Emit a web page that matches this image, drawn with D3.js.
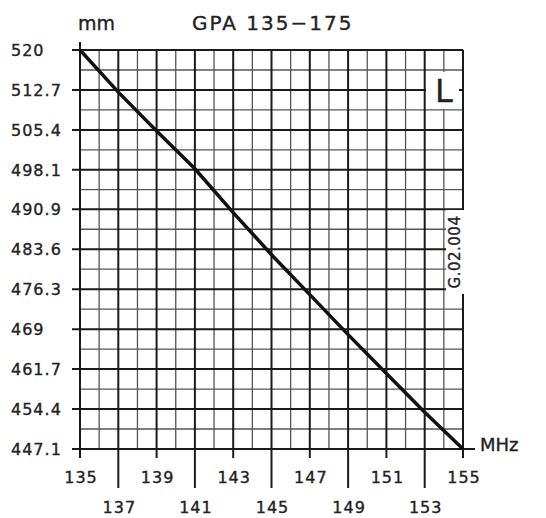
<!DOCTYPE html>
<html>
<head>
<meta charset="utf-8">
<script src="https://cdn.jsdelivr.net/npm/d3@7"></script>
<style>
  body { margin: 0; background: #fff; }
  text { font-family: "DejaVu Sans", sans-serif; fill: #222; stroke: #222; stroke-width: 0.35px; }
</style>
</head>
<body>
<div id="plot"></div>
<script>
// chart data
const freqTicks = [135, 136, 137, 138, 139, 140, 141, 142, 143, 144, 145,
                   146, 147, 148, 149, 150, 151, 152, 153, 154, 155];
const lengthTicks = [520, 512.7, 505.4, 498.1, 490.9, 483.6, 476.3, 469, 461.7, 454.4, 447.1];
const lengthLabels = ["520", "512.7", "505.4", "498.1", "490.9", "483.6", "476.3", "469", "461.7", "454.4", "447.1"];
const freq = [135, 137, 139, 141, 143, 145, 147, 149, 151, 153, 155];
const length = [520, 512.3, 505.2, 498.3, 490.3, 482.6, 475.3, 468.0, 460.9, 453.8, 447.1];

const W = 546, H = 518;
const svg = d3.select("#plot").append("svg")
    .attr("width", W)
    .attr("height", H);

const x = d3.scaleLinear().domain([135, 155]).range([80, 463]);
const y = d3.scaleLinear().domain([447.1, 520]).range([449, 50]);

// minor horizontal lines halfway between labelled values
const halfLines = d3.pairs(lengthTicks).map(p => (p[0] + p[1]) / 2);

svg.append("g").selectAll("line")
  .data(halfLines)
  .join("line")
    .attr("x1", x(135)).attr("x2", x(155))
    .attr("y1", d => y(d)).attr("y2", d => y(d))
    .attr("stroke", "#555").attr("stroke-width", 1.3);

// vertical grid, every 2 MHz heavier
svg.append("g").selectAll("line")
  .data(freqTicks)
  .join("line")
    .attr("x1", d => x(d)).attr("x2", d => x(d))
    .attr("y1", y(520)).attr("y2", y(447.1))
    .attr("stroke", d => (d - 135) % 2 === 0 ? "#1a1a1a" : "#555")
    .attr("stroke-width", d => (d - 135) % 2 === 0 ? 2 : 1.3);

// major horizontal lines, with ticks out to the left
svg.append("g").selectAll("line")
  .data(lengthTicks)
  .join("line")
    .attr("x1", 72).attr("x2", d => d === 447.1 ? 475 : x(155))
    .attr("y1", d => y(d)).attr("y2", d => y(d))
    .attr("stroke", "#1a1a1a").attr("stroke-width", 2);

// left axis line goes a little above the plot
svg.append("line")
  .attr("x1", x(135)).attr("x2", x(135))
  .attr("y1", 42).attr("y2", 458)
  .attr("stroke", "#1a1a1a").attr("stroke-width", 2);

// ticks below the x axis: short on first row, long on second row
const labelTicks = freqTicks.filter(d => (d - 135) % 2 === 0);
svg.append("g").selectAll("line")
  .data(labelTicks)
  .join("line")
    .attr("x1", d => x(d)).attr("x2", d => x(d))
    .attr("y1", y(447.1))
    .attr("y2", d => (d - 135) % 4 === 0 ? 458 : 488)
    .attr("stroke", "#1a1a1a").attr("stroke-width", 2);

// y labels
svg.append("g").selectAll("text")
  .data(lengthTicks)
  .join("text")
    .attr("x", 11)
    .attr("y", d => y(d) + 6)
    .style("font-size", "16px")
    .style("letter-spacing", "1px")
    .text((d, i) => lengthLabels[i]);

// x labels on two rows
svg.append("g").selectAll("text")
  .data(labelTicks)
  .join("text")
    .attr("x", d => x(d) + 1)
    .attr("y", d => (d - 135) % 4 === 0 ? 483 : 513)
    .attr("text-anchor", "middle")
    .style("font-size", "16px")
    .style("letter-spacing", "1px")
    .text(d => d);

// label boxes
svg.append("rect")
  .attr("x", 426).attr("y", 72).attr("width", 33).attr("height", 37)
  .attr("fill", "#fff");
svg.append("text")
  .attr("x", 444).attr("y", 102)
  .attr("text-anchor", "middle")
  .style("font-size", "32px")
  .text("L");

svg.append("rect")
  .attr("x", 446).attr("y", 210).attr("width", 18).attr("height", 84)
  .attr("fill", "#fff");
svg.append("text")
  .attr("transform", "translate(460,252) rotate(-90)")
  .attr("text-anchor", "middle")
  .style("font-size", "15px")
  .style("letter-spacing", "0.5px")
  .text("G.02.004");

// the curve
svg.append("path")
  .datum(freq.map((f, i) => [f, length[i]]))
  .attr("fill", "none")
  .attr("stroke", "#111")
  .attr("stroke-width", 3.5)
  .attr("d", d3.line().x(d => x(d[0])).y(d => y(d[1])));

// titles
svg.append("text")
  .attr("x", 78).attr("y", 30)
  .style("font-size", "19px")
  .text("mm");
svg.append("text")
  .attr("x", 192).attr("y", 30)
  .style("font-size", "20px")
  .style("letter-spacing", "2px")
  .text("GPA 135\u2212175");
svg.append("text")
  .attr("x", 480).attr("y", 451)
  .style("font-size", "18px")
  .text("MHz");
</script>
</body>
</html>
